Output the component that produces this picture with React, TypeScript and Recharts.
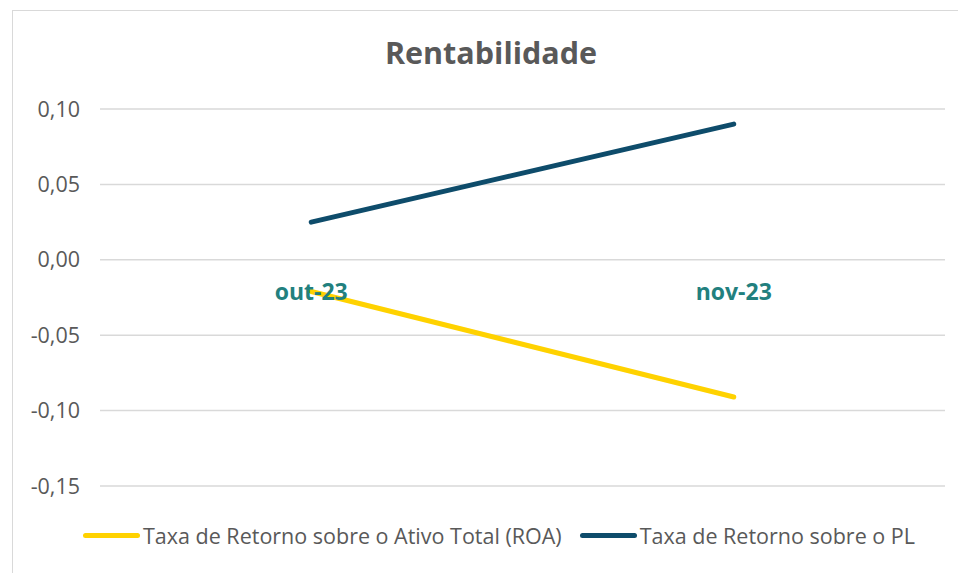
import { CartesianGrid, LabelList, Legend, Line, LineChart, XAxis, YAxis } from "recharts";

const months = ["out-23", "nov-23"];
const roa = [-0.021, -0.091];
const pl = [0.025, 0.09];
const yTicks = [-0.15, -0.1, -0.05, 0, 0.05, 0.1];

const seriesInfo = [
  { key: "roa", name: "Taxa de Retorno sobre o Ativo Total (ROA)", color: "#FFD200" },
  { key: "pl", name: "Taxa de Retorno sobre o PL", color: "#0E4C6B" },
];

const data = months.map((m, i) => ({ month: m, roa: roa[i], pl: pl[i], axis: 0 }));

const FONT = "'Open Sans', 'Noto Sans', sans-serif";

function LegendContent() {
  return (
    <div style={{ display: "flex", justifyContent: "center", alignItems: "center", height: 24, paddingLeft: 58, fontFamily: FONT, fontSize: 21.5, color: "#595959", whiteSpace: "nowrap" }}>
      {seriesInfo.map((s) => (
        <div key={s.key} style={{ display: "flex", alignItems: "center", marginRight: 18 }}>
          <span style={{ display: "inline-block", width: 57, height: 5, borderRadius: 3, background: s.color, marginRight: 3 }} />
          <span>{s.name}</span>
        </div>
      ))}
    </div>
  );
}

export default function App() {
  return (
    <div style={{ position: "absolute", left: 0, top: 0, width: 958, height: 573, background: "#fff", overflow: "hidden" }}>
      <div style={{ position: "absolute", left: 12, top: 10, width: 990, height: 580, border: "1px solid #d9d9d9", boxSizing: "border-box" }} />
      <div style={{ position: "absolute", left: 0, top: 31, width: 982, textAlign: "center", fontFamily: FONT, fontWeight: 700, fontSize: 30.5, color: "#595959" }}>
        Rentabilidade
      </div>
      <div style={{ position: "absolute", left: 0, top: 0 }}>
        <LineChart width={958} height={573} data={data} margin={{ top: 109, right: 13, bottom: 63, left: 12 }}>
          <CartesianGrid horizontal vertical={false} stroke="#d9d9d9" strokeWidth={1.5} />
          <XAxis dataKey="month" scale="band" hide />
          <YAxis
            domain={[-0.15, 0.1]}
            ticks={yTicks}
            width={88}
            axisLine={false}
            tickLine={false}
            tickSize={0}
            tickMargin={20}
            interval={0}
            tickFormatter={(v: number) => v.toFixed(2).replace(".", ",")}
            tick={{ fill: "#595959", fontSize: 21.5, fontFamily: FONT }}
          />
          <Line dataKey="axis" stroke="none" dot={false} legendType="none" isAnimationActive={false}>
            <LabelList dataKey="month" position="bottom" offset={24} fill="#22807E" fontSize={23} fontWeight={700} fontFamily={FONT} />
          </Line>
          {seriesInfo.map((s) => (
            <Line key={s.key} dataKey={s.key} name={s.name} stroke={s.color} strokeWidth={5} strokeLinecap="round" dot={false} isAnimationActive={false} />
          ))}
          <Legend verticalAlign="bottom" content={<LegendContent />} wrapperStyle={{ top: 523, bottom: "auto", left: 0, width: 958 }} />
        </LineChart>
      </div>
    </div>
  );
}
